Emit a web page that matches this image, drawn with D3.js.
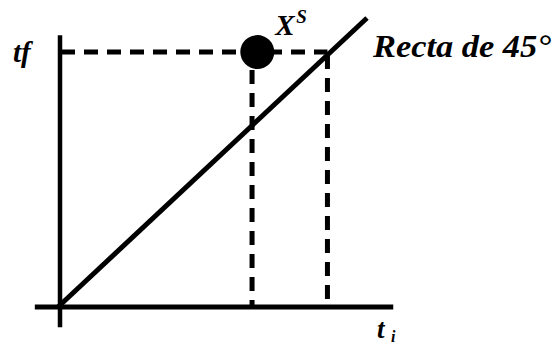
<!DOCTYPE html>
<html>
<head>
<meta charset="utf-8">
<script src="https://cdn.jsdelivr.net/npm/d3@7"></script>
<style>
  body { margin: 0; background: #fff; }
  text { font-family: "Liberation Serif", "DejaVu Serif", serif; font-weight: bold; font-style: italic; fill: #000; }
</style>
</head>
<body>
<div id="chart"></div>
<script>
// values in chart units (0..1 both axes)
var xRange = [-0.075, 1.085]   // x axis extent
var yRange = [-0.07, 0.94]     // y axis extent
var diagonal = [[0, 0], [1, 1]]  // recta de 45
var tf = 0.882                 // level of tf
var xs = [0.645]               // point X^S (x), sits at tf
var guides = [0.628, 0.872]    // vertical dashed guides
var labels = {tf: "tf", xs: "X", xsSup: "S", recta: "Recta de 45°", ti: "t", tiSub: "i"}

var w = 554, h = 346
var x = d3.scaleLinear().domain([0, 1]).range([58, 367])
var y = d3.scaleLinear().domain([0, 1]).range([307, 18])

var svg = d3.select('#chart').append('svg')
  .attr('width', w)
  .attr('height', h)

// dashed horizontal at tf
svg.append('line')
  .attr('x1', x(0) + 3).attr('x2', x(guides[1]))
  .attr('y1', y(tf)).attr('y2', y(tf))
  .attr('stroke', 'black').attr('stroke-width', 5)
  .attr('stroke-dasharray', '14,9')

// vertical dashed guides
svg.selectAll('.guide')
  .data(guides)
  .enter()
  .append('line')
  .attr('class', 'guide')
  .attr('x1', function(d){ return x(d) })
  .attr('x2', function(d){ return x(d) })
  .attr('y1', function(d, i){ return i == 0 ? y(tf) + 18 : y(tf) + 3 })
  .attr('y2', y(0))
  .attr('stroke', 'black').attr('stroke-width', 5)
  .attr('stroke-dasharray', '14,9')

// axes
svg.append('line')
  .attr('x1', x(xRange[0])).attr('x2', x(xRange[1]))
  .attr('y1', y(0)).attr('y2', y(0))
  .attr('stroke', 'black').attr('stroke-width', 5)
svg.append('line')
  .attr('x1', x(0) + 2).attr('x2', x(0) + 2)
  .attr('y1', y(yRange[0])).attr('y2', y(yRange[1]))
  .attr('stroke', 'black').attr('stroke-width', 4.5)

// 45 degree line
svg.append('line')
  .attr('x1', x(diagonal[0][0])).attr('y1', y(diagonal[0][1]))
  .attr('x2', x(diagonal[1][0])).attr('y2', y(diagonal[1][1]))
  .attr('stroke', 'black').attr('stroke-width', 5)

// point X^S
svg.selectAll('.pt')
  .data(xs)
  .enter()
  .append('circle')
  .attr('class', 'pt')
  .attr('cx', function(d){ return x(d) })
  .attr('cy', y(tf))
  .attr('r', 17)
  .attr('fill', 'black')

// labels
svg.append('text')
  .attr('x', 13).attr('y', 62)
  .attr('font-size', 29)
  .text(labels.tf)

svg.append('text')
  .attr('x', x(xs[0]) + 18).attr('y', 35)
  .attr('font-size', 29)
  .text(labels.xs)
svg.append('text')
  .attr('x', x(xs[0]) + 39).attr('y', 23)
  .attr('font-size', 19)
  .text(labels.xsSup)

svg.append('text')
  .attr('x', 373).attr('y', 57)
  .attr('font-size', 31)
  .attr('textLength', 178)
  .attr('lengthAdjust', 'spacingAndGlyphs')
  .text(labels.recta)

svg.append('text')
  .attr('x', 377).attr('y', 338)
  .attr('font-size', 27)
  .text(labels.ti)
svg.append('text')
  .attr('x', 391).attr('y', 342)
  .attr('font-size', 16)
  .text(labels.tiSub)
</script>
</body>
</html>
